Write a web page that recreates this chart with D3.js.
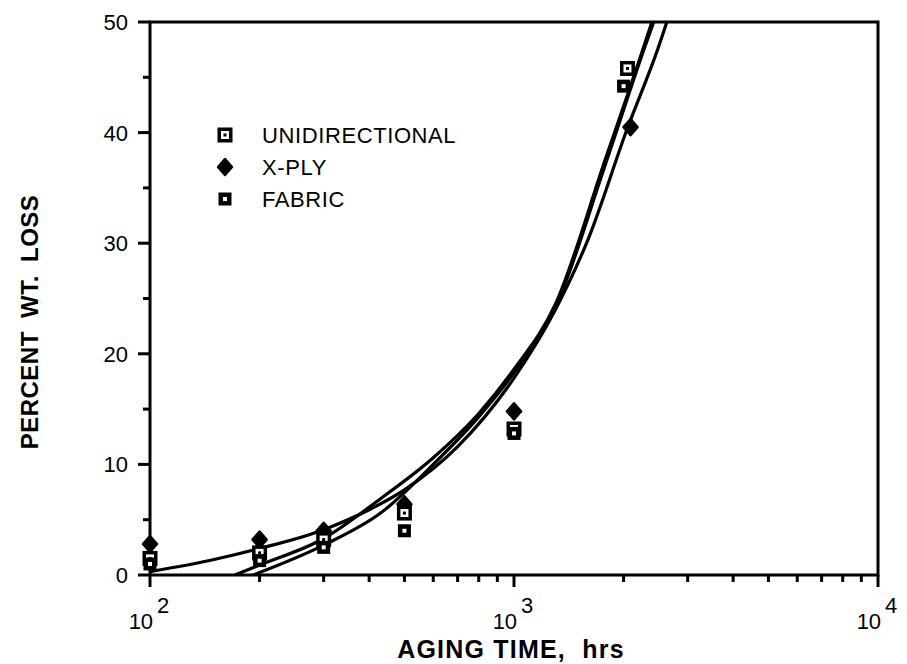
<!DOCTYPE html>
<html>
<head>
<meta charset="utf-8">
<script src="https://cdn.jsdelivr.net/npm/d3@7"></script>
<style>
  body { margin: 0; background: #fff; }
  svg { font-family: "Liberation Sans", Arial, sans-serif; }
</style>
</head>
<body>
<div id="chart"></div>
<script>
// measured points (hours, percent wt. loss)
const uniTime = [100, 200, 300, 500, 1000, 2050];
const uniLoss = [1.5, 2.0, 3.2, 5.6, 13.2, 45.8];
const xplyTime = [100, 200, 300, 500, 1000, 2090];
const xplyLoss = [2.8, 3.2, 4.0, 6.4, 14.8, 40.5];
const fabTime = [100, 200, 300, 500, 1000, 2000];
const fabLoss = [1.0, 1.3, 2.5, 4.0, 12.8, 44.2];

// fitted curves
const xplyFitT = [100, 150, 200, 300, 400, 500, 700, 1000, 1300, 1600, 2044, 2486, 2660];
const xplyFitV = [0.3, 1.4, 2.4, 4.1, 5.9, 7.7, 11.6, 17.8, 24.0, 30.4, 40.3, 47.6, 50.5];
const uniFitT = [171, 200, 300, 430, 600, 800, 1000, 1300, 1778, 2264, 2420];
const uniFitV = [0, 0.9, 3.3, 6.9, 10.6, 14.6, 18.6, 24.5, 37.5, 47.6, 50.5];
const fabFitT = [192, 300, 430, 600, 800, 1000, 1300, 1778, 2280, 2450];
const fabFitV = [0, 2.7, 5.6, 10.0, 14.3, 18.3, 24.2, 37.0, 47.6, 50.5];

const yTicks = [0, 10, 20, 30, 40, 50];
const yMinor = [5, 15, 25, 35, 45];
const xMajor = [100, 1000, 10000];
const xMinor = [200, 300, 400, 500, 600, 700, 800, 900, 2000, 3000, 4000, 5000, 6000, 7000, 8000, 9000];

const width = 907, height = 664;
const plotL = 150, plotR = 878, plotT = 22, plotB = 575;

const svg = d3.select("#chart").append("svg")
    .attr("width", width)
    .attr("height", height);

const x = d3.scaleLog().domain([100, 10000]).range([plotL, plotR]);
const y = d3.scaleLinear().domain([0, 50]).range([plotB, plotT]);

// clip for the curves
svg.append("clipPath").attr("id", "plot")
  .append("rect")
    .attr("x", plotL).attr("y", plotT)
    .attr("width", plotR - plotL).attr("height", plotB - plotT);

const line = d3.line()
    .x(d => x(d[0]))
    .y(d => y(d[1]))
    .curve(d3.curveMonotoneX);

const fits = [
  d3.zip(xplyFitT, xplyFitV),
  d3.zip(uniFitT, uniFitV),
  d3.zip(fabFitT, fabFitV)
];

svg.append("g")
    .attr("clip-path", "url(#plot)")
  .selectAll("path")
  .data(fits)
  .join("path")
    .attr("d", line)
    .attr("fill", "none")
    .attr("stroke", "#000")
    .attr("stroke-width", 3.2);

// frame
svg.append("rect")
    .attr("x", plotL).attr("y", plotT)
    .attr("width", plotR - plotL).attr("height", plotB - plotT)
    .attr("fill", "none")
    .attr("stroke", "#000")
    .attr("stroke-width", 3);

// x ticks
svg.append("g").selectAll("line")
  .data(xMajor.concat(xMinor))
  .join("line")
    .attr("x1", d => x(d)).attr("x2", d => x(d))
    .attr("y1", plotB)
    .attr("y2", d => plotB + (xMajor.includes(d) ? 12 : 7))
    .attr("stroke", "#000")
    .attr("stroke-width", 3);

const xLab = svg.append("g").selectAll("text")
  .data(xMajor)
  .join("text")
    .attr("x", d => x(d) - 1)
    .attr("y", 629)
    .attr("text-anchor", "middle")
    .attr("font-size", 22);
xLab.append("tspan").text("10");
xLab.append("tspan")
    .attr("dx", 4)
    .attr("dy", -16)
    .text(d => Math.round(Math.log10(d)));

// y ticks
svg.append("g").selectAll("line")
  .data(yTicks.concat(yMinor))
  .join("line")
    .attr("x1", plotL)
    .attr("x2", d => plotL - (yTicks.includes(d) ? 12 : 7))
    .attr("y1", d => y(d)).attr("y2", d => y(d))
    .attr("stroke", "#000")
    .attr("stroke-width", 3);

svg.append("g").selectAll("text")
  .data(yTicks)
  .join("text")
    .attr("x", 128)
    .attr("y", d => y(d) + 8)
    .attr("text-anchor", "end")
    .attr("font-size", 22)
    .text(d => d);

// axis titles
svg.append("text")
    .attr("x", 511)
    .attr("y", 658)
    .attr("text-anchor", "middle")
    .attr("font-size", 25)
    .attr("font-weight", "bold")
    .attr("letter-spacing", 1.2)
    .attr("xml:space", "preserve")
    .text("AGING TIME,  hrs");

svg.append("text")
    .attr("transform", "translate(38,322) rotate(-90)")
    .attr("text-anchor", "middle")
    .attr("font-size", 24)
    .attr("font-weight", "bold")
    .attr("letter-spacing", 0.5)
    .attr("word-spacing", 6)
    .text("PERCENT WT. LOSS");

// markers
function drawUni(g, cx, cy) {
  g.append("rect").attr("x", cx - 7.5).attr("y", cy - 7.5).attr("width", 15).attr("height", 15).attr("fill", "#000");
  g.append("rect").attr("x", cx - 4).attr("y", cy - 4).attr("width", 8).attr("height", 8).attr("fill", "#fff");
  g.append("rect").attr("x", cx - 1.5).attr("y", cy - 1.5).attr("width", 3).attr("height", 3).attr("fill", "#000");
}
function drawFab(g, cx, cy) {
  g.append("rect").attr("x", cx - 6.5).attr("y", cy - 6.5).attr("width", 13).attr("height", 13).attr("fill", "#000");
  g.append("rect").attr("x", cx - 2).attr("y", cy - 2).attr("width", 4).attr("height", 4).attr("fill", "#fff");
}
function drawXply(g, cx, cy) {
  g.append("path")
    .attr("d", `M${cx},${cy - 8}L${cx + 7},${cy}L${cx},${cy + 8}L${cx - 7},${cy}Z`)
    .attr("fill", "#000")
    .attr("stroke", "#000")
    .attr("stroke-linejoin", "round")
    .attr("stroke-width", 2.5);
}

const pts = svg.append("g");
d3.zip(xplyTime, xplyLoss).forEach(d => drawXply(pts, x(d[0]), y(d[1])));
d3.zip(uniTime, uniLoss).forEach(d => drawUni(pts, x(d[0]), y(d[1])));
d3.zip(fabTime, fabLoss).forEach(d => drawFab(pts, x(d[0]), y(d[1])));

// legend
const legend = [
  { name: "UNIDIRECTIONAL", draw: drawUni },
  { name: "X-PLY", draw: drawXply },
  { name: "FABRIC", draw: drawFab }
];
const lg = svg.append("g");
legend.forEach((d, i) => {
  const ly = 135 + i * 32;
  d.draw(lg, 225, ly);
  lg.append("text")
    .attr("x", 262)
    .attr("y", ly + 8)
    .attr("font-size", 22)
    .attr("letter-spacing", 0.6)
    .text(d.name);
});
</script>
</body>
</html>
